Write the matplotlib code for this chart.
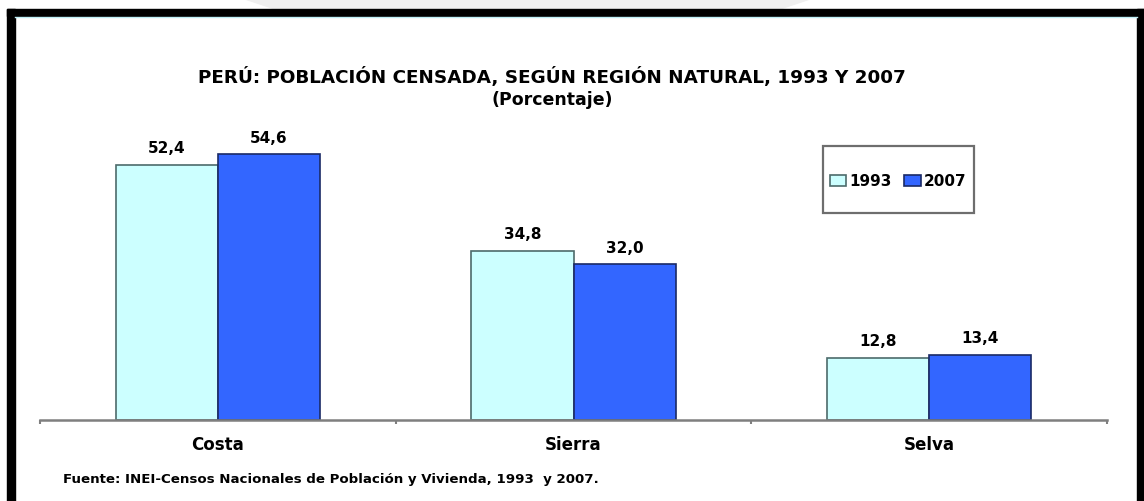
import matplotlib.pyplot as plt
from matplotlib.patches import Rectangle, Polygon
from matplotlib.lines import Line2D

regions = ['Costa', 'Sierra', 'Selva']
years = ['1993', '2007']
pct_1993 = [52.4, 34.8, 12.8]
pct_2007 = [54.6, 32.0, 13.4]
labels_1993 = ['52,4', '34,8', '12,8']
labels_2007 = ['54,6', '32,0', '13,4']

W, H = 1144, 502
fig = plt.figure(figsize=(W / 100, H / 100), dpi=100)
plt.rcParams['font.family'] = ['DejaVu Sans']

# faint grey band above the frame
fig.patches.append(Polygon([(245 / W, 1), (810 / W, 1), (780 / W, 1 - 10 / H), (275 / W, 1 - 10 / H)],
                           closed=True, transform=fig.transFigure, color='#efefef', zorder=0))
# black frame (open at bottom)
fig.patches.append(Rectangle((7 / W, 0), 8 / W, 1 - 10 / H, transform=fig.transFigure, color='black'))
fig.patches.append(Rectangle((1137 / W, 0), 7 / W, 1 - 10 / H, transform=fig.transFigure, color='black'))
fig.patches.append(Rectangle((7 / W, 1 - 17 / H), 1137 / W, 7 / H, transform=fig.transFigure, color='black'))
fig.lines.append(Line2D([15 / W, 1137 / W], [1 - 18 / H, 1 - 18 / H], transform=fig.transFigure,
                        color='#bfeff5', lw=1))

ax_l, ax_r, ax_b, ax_t = 40, 1107, 421, 129
ax = fig.add_axes([ax_l / W, 1 - ax_b / H, (ax_r - ax_l) / W, (ax_b - ax_t) / H])
x = range(len(regions))
bw = 0.287
b1 = ax.bar([i - bw / 2 for i in x], pct_1993, bw, color='#ccffff', edgecolor='#4d6b6b', lw=1.2, label=years[0])
b2 = ax.bar([i + bw / 2 for i in x], pct_2007, bw, color='#3366ff', edgecolor='#1a2a66', lw=1.2, label=years[1])

for bars, labs in ((b1, labels_1993), (b2, labels_2007)):
    for r, lab in zip(bars, labs):
        ax.text(r.get_x() + r.get_width() / 2, r.get_height() + 2.0, lab, ha='center', va='bottom',
                fontsize=11, fontweight='bold')

ax.set_xlim(-0.5, 2.5)
ax.set_ylim(0, 60)
for s in ['top', 'right', 'left']:
    ax.spines[s].set_visible(False)
ax.spines['bottom'].set_color('#7f7f7f')
ax.spines['bottom'].set_linewidth(1.8)
ax.set_yticks([])
ax.set_xticks([-0.5, 0.5, 1.5, 2.5])
ax.set_xticklabels([])
ax.tick_params(axis='x', length=3, color='#7f7f7f', width=1.5)
for i, r in enumerate(regions):
    ax.text(i, -3.0, r, ha='center', va='top', fontsize=12, fontweight='bold')

# legend: entries centred in a separate box
ax.add_patch(Rectangle((823 / W, 1 - 214 / H), 151 / W, 67 / H, transform=fig.transFigure,
                       facecolor='white', edgecolor='#6e6e6e', lw=1.6, zorder=4, clip_on=False))
leg = ax.legend(loc='center', bbox_to_anchor=((898 - ax_l) / (ax_r - ax_l), (ax_b - 182) / (ax_b - ax_t)),
                ncol=2, frameon=False, handlelength=1.1, handleheight=0.7,
                handletextpad=0.2, columnspacing=0.8, borderpad=0, borderaxespad=0,
                prop={'size': 11, 'weight': 'bold'})
leg.set_zorder(6)

fig.text(552 / W, 1 - 77 / H, 'PERÚ: POBLACIÓN CENSADA, SEGÚN REGIÓN NATURAL, 1993 Y 2007',
         ha='center', va='center', fontsize=13.2, fontweight='bold')
fig.text(552 / W, 1 - 100 / H, '(Porcentaje)', ha='center', va='center', fontsize=12.5, fontweight='bold')
fig.text(63 / W, 1 - 480 / H, 'Fuente: INEI-Censos Nacionales de Población y Vivienda, 1993  y 2007.',
         ha='left', va='center', fontsize=9.6, fontweight='bold')

fig.savefig('out.png', dpi=100)
